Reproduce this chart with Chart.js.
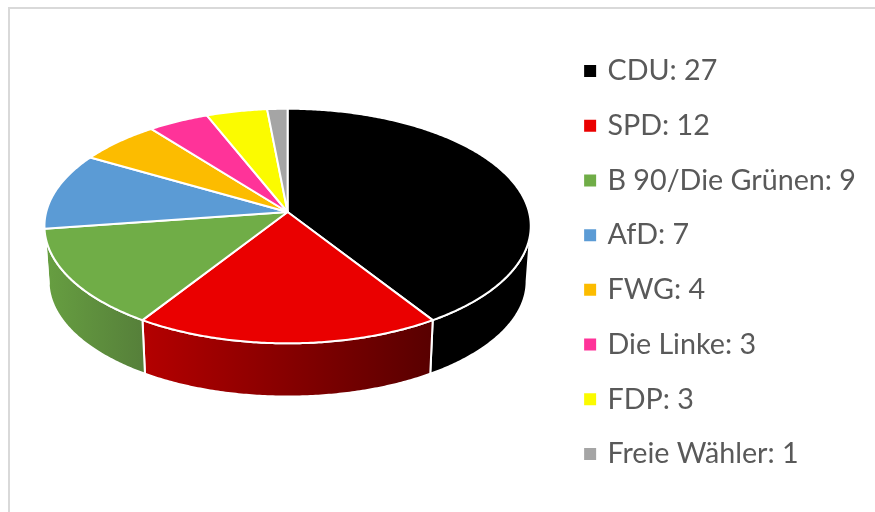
<!DOCTYPE html>
<html>
<head>
<meta charset="utf-8">
<title>Sitzverteilung</title>
<script src="https://cdn.jsdelivr.net/npm/chart.js@4"></script>
<style>
  html, body { margin: 0; padding: 0; background: #fff; overflow: hidden; }
  #wrap { position: relative; width: 875px; height: 512px; }
  #frame { position: absolute; left: 8px; top: 7px; right: -4px; bottom: -4px; border: 2px solid #d9d9d9; }
  canvas { position: absolute; left: 0; top: 0; }
</style>
</head>
<body>
<div id="wrap">
  <div id="frame"></div>
  <canvas id="myPie" width="875" height="512"></canvas>
</div>
<script>
  const parties = ["CDU", "SPD", "B 90/Die Grünen", "AfD", "FWG", "Die Linke", "FDP", "Freie Wähler"];
  const seats = [27, 12, 9, 7, 4, 3, 3, 1];
  const colors = ["#000000", "#ea0000", "#70ad47", "#5b9bd5", "#fcbc00", "#ff3399", "#fbfb00", "#a5a5a5"];
  // left and right colour of the outer wall, only the front slices show one
  const wallColors = [["#000000", "#000000"], ["#b40000", "#580000"], ["#679f41", "#56803a"], ["#5b9bd5", "#5b9bd5"]];

  // perspective of the tilted disc
  const view = { cx: 287.6, cy: 212, a: 241.4, b: 115.6, k: 0.1197, wallY: 267.5, wallScale: 0.983 };

  function topPoint(angle) {
    const u = Math.cos(angle), v = Math.sin(angle), w = 1 - view.k * v;
    return [view.cx + view.a * u / w, view.cy + view.b * v / w];
  }

  function wallPoint(angle) {
    const u = Math.cos(angle), v = Math.sin(angle), w = 1 - view.k * v;
    return [view.cx + view.wallScale * view.a * u / w, view.wallY + view.wallScale * view.b * v / w];
  }

  function sample(fn, from, to) {
    const pts = [];
    const n = Math.max(2, Math.ceil((to - from) / 0.01));
    for (let i = 0; i <= n; i++) pts.push(fn(from + (to - from) * i / n));
    return pts;
  }

  function tracePath(ctx, pts, close) {
    ctx.beginPath();
    pts.forEach((p, i) => i ? ctx.lineTo(p[0], p[1]) : ctx.moveTo(p[0], p[1]));
    if (close) ctx.closePath();
  }

  // replaces the flat arcs, angles still come from the chart's own elements
  const tiltedPie = {
    id: 'tiltedPie',
    beforeDatasetDraw(chart, args) {
      const ctx = chart.ctx;
      const arcs = chart.getDatasetMeta(args.index).data;
      const edge = Math.asin(view.k);
      ctx.save();
      ctx.lineJoin = 'round';
      ctx.strokeStyle = '#fff';
      ctx.lineWidth = 2;

      arcs.forEach((arc, i) => {
        const from = Math.max(arc.startAngle, edge);
        const to = Math.min(arc.endAngle, Math.PI - edge);
        if (to <= from || !wallColors[i]) return;
        const outer = sample(topPoint, from, to);
        const lower = sample(wallPoint, from, to).reverse();
        const g = ctx.createLinearGradient(outer[outer.length - 1][0], 0, outer[0][0], 0);
        g.addColorStop(0, wallColors[i][0]);
        g.addColorStop(1, wallColors[i][1]);
        tracePath(ctx, outer.concat(lower), true);
        ctx.fillStyle = g;
        ctx.fill();
        ctx.stroke();
      });

      arcs.forEach((arc, i) => {
        tracePath(ctx, [[view.cx, view.cy]].concat(sample(topPoint, arc.startAngle, arc.endAngle)), true);
        ctx.fillStyle = colors[i];
        ctx.fill();
        ctx.stroke();
      });
      ctx.restore();
      return false;
    }
  };

  let myPie = document.getElementById("myPie").getContext('2d');
  let myPieChart = new Chart(myPie, {
    type: 'pie',
    data: {
      labels: parties,
      datasets: [{
        data: seats,
        backgroundColor: colors,
        borderWidth: 0
      }]
    },
    options: {
      responsive: false,
      animation: false,
      layout: { padding: { top: 13, right: 9 } },
      plugins: {
        tooltip: { enabled: false },
        legend: {
          display: true,
          position: 'right',
          labels: {
            usePointStyle: true,
            pointStyle: 'rect',
            boxWidth: 6,
            boxHeight: 12,
            padding: 26,
            color: '#595959',
            font: { family: 'Lato', size: 28.7 },
            generateLabels(chart) {
              return parties.map((name, i) => ({
                text: name + ": " + seats[i],
                fillStyle: colors[i],
                strokeStyle: colors[i],
                fontColor: '#595959',
                lineWidth: 0,
                pointStyle: 'rect',
                index: i
              }));
            }
          }
        }
      }
    },
    plugins: [tiltedPie]
  });
</script>
</body>
</html>
